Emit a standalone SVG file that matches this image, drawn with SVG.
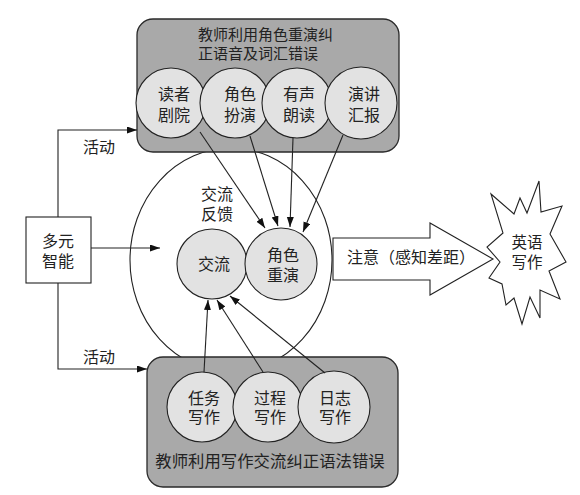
<svg xmlns="http://www.w3.org/2000/svg" width="580" height="495" viewBox="0 0 580 495">
<defs>
<style>
text{font-family:"Noto Sans CJK SC","Liberation Sans",sans-serif;fill:#222;}
.t16{font-size:16px;text-anchor:middle;}
.t15{font-size:15px;}
.box{fill:#a9a9a9;stroke:#2a2a2a;stroke-width:1.3;}
.c{fill:#e2e2e2;stroke:#222;stroke-width:1.1;}
.ln{fill:none;stroke:#222;stroke-width:1.1;}
.wf{fill:#fff;stroke:#222;stroke-width:1.1;}
</style>
<marker id="ah" markerUnits="userSpaceOnUse" markerWidth="11" markerHeight="8" refX="10" refY="3.5" orient="auto">
<path d="M0,0 L10,3.5 L0,7 z" fill="#111"/>
</marker>
</defs>
<rect width="580" height="495" fill="#fff"/>

<g id="feedback-circle">
<ellipse cx="231" cy="260" rx="101" ry="112" class="wf"/>
<text class="t16" x="217" y="200">交流</text>
<text class="t16" x="217" y="220">反馈</text>
</g>

<g id="top-box">
<rect x="137" y="19" width="262" height="133" rx="16" class="box"/>
<text class="t15" x="198" y="40">教师利用角色重演纠</text>
<text class="t15" x="198" y="59">正语音及词汇错误</text>
</g>
<g id="n-duzhe">
<circle cx="171" cy="103" r="35" class="c"/>
<text class="t16" x="174" y="100">读者</text>
<text class="t16" x="174" y="121">剧院</text>
</g>
<g id="n-juese-banyan">
<circle cx="235" cy="103" r="35" class="c"/>
<text class="t16" x="240" y="100">角色</text>
<text class="t16" x="240" y="121">扮演</text>
</g>
<g id="n-yousheng">
<circle cx="297" cy="103" r="35" class="c"/>
<text class="t16" x="299" y="100">有声</text>
<text class="t16" x="299" y="121">朗读</text>
</g>
<g id="n-yanjiang">
<circle cx="361" cy="103" r="36" class="c"/>
<text class="t16" x="364" y="100">演讲</text>
<text class="t16" x="364" y="121">汇报</text>
</g>

<g id="bottom-box">
<rect x="147" y="357" width="251" height="130" rx="16" class="box"/>
<text class="t16" x="270" y="467" style="font-size:16.4px">教师利用写作交流纠正语法错误</text>
</g>
<g id="n-renwu">
<circle cx="202" cy="407" r="35" class="c"/>
<text class="t16" x="204" y="404">任务</text>
<text class="t16" x="204" y="423">写作</text>
</g>
<g id="n-guocheng">
<circle cx="268" cy="407" r="35" class="c"/>
<text class="t16" x="270" y="404">过程</text>
<text class="t16" x="270" y="423">写作</text>
</g>
<g id="n-rizhi">
<circle cx="334" cy="407" r="36" class="c"/>
<text class="t16" x="335" y="404">日志</text>
<text class="t16" x="335" y="423">写作</text>
</g>

<g id="n-jiaoliu">
<circle cx="212" cy="264" r="35" class="c"/>
<text class="t16" x="214" y="270">交流</text>
</g>
<g id="n-juese-chongyan">
<circle cx="281" cy="264" r="36" class="c"/>
<text class="t16" x="283" y="261">角色</text>
<text class="t16" x="283" y="281">重演</text>
</g>

<g id="n-duoyuan">
<rect x="26" y="217" width="65" height="66" class="wf"/>
<text class="t16" x="58" y="247">多元</text>
<text class="t16" x="58" y="267">智能</text>
</g>

<g id="block-arrow">
<polygon points="333,238 430,238 430,223 493,259 430,295 430,280 333,280" class="wf"/>
<text x="347" y="263" style="font-size:16px">注意（感知差距）</text>
</g>

<g id="n-yingyu">
<polygon points="491,194 514,214 520,198 527,213 539,181 541,212 562,206 550,234 566,262 549,271 560,299 540,290 540,318 530,297 522,324 514,298 506,305 502,284 489,278 500,262 487,247 503,233" class="wf"/>
<text class="t16" x="527" y="248" style="font-size:15.5px">英语</text>
<text class="t16" x="527" y="268" style="font-size:15.5px">写作</text>
</g>

<g id="connectors">
<polyline points="58,217 58,130 137,130" class="ln" marker-end="url(#ah)"/>
<polyline points="58,283 58,369 147,369" class="ln" marker-end="url(#ah)"/>
<line x1="91" y1="248" x2="160" y2="248" class="ln" marker-end="url(#ah)"/>
<line x1="200" y1="132" x2="265" y2="228" class="ln" marker-end="url(#ah)"/>
<line x1="250" y1="136" x2="278" y2="226" class="ln" marker-end="url(#ah)"/>
<line x1="293" y1="138" x2="290" y2="227" class="ln" marker-end="url(#ah)"/>
<line x1="343" y1="135" x2="303" y2="232" class="ln" marker-end="url(#ah)"/>
<line x1="204" y1="372" x2="208" y2="300" class="ln" marker-end="url(#ah)"/>
<line x1="263" y1="372" x2="217" y2="300" class="ln" marker-end="url(#ah)"/>
<line x1="325" y1="373" x2="230" y2="296" class="ln" marker-end="url(#ah)"/>
<text class="t16" x="99" y="153">活动</text>
<text class="t16" x="99" y="363">活动</text>
</g>
</svg>
